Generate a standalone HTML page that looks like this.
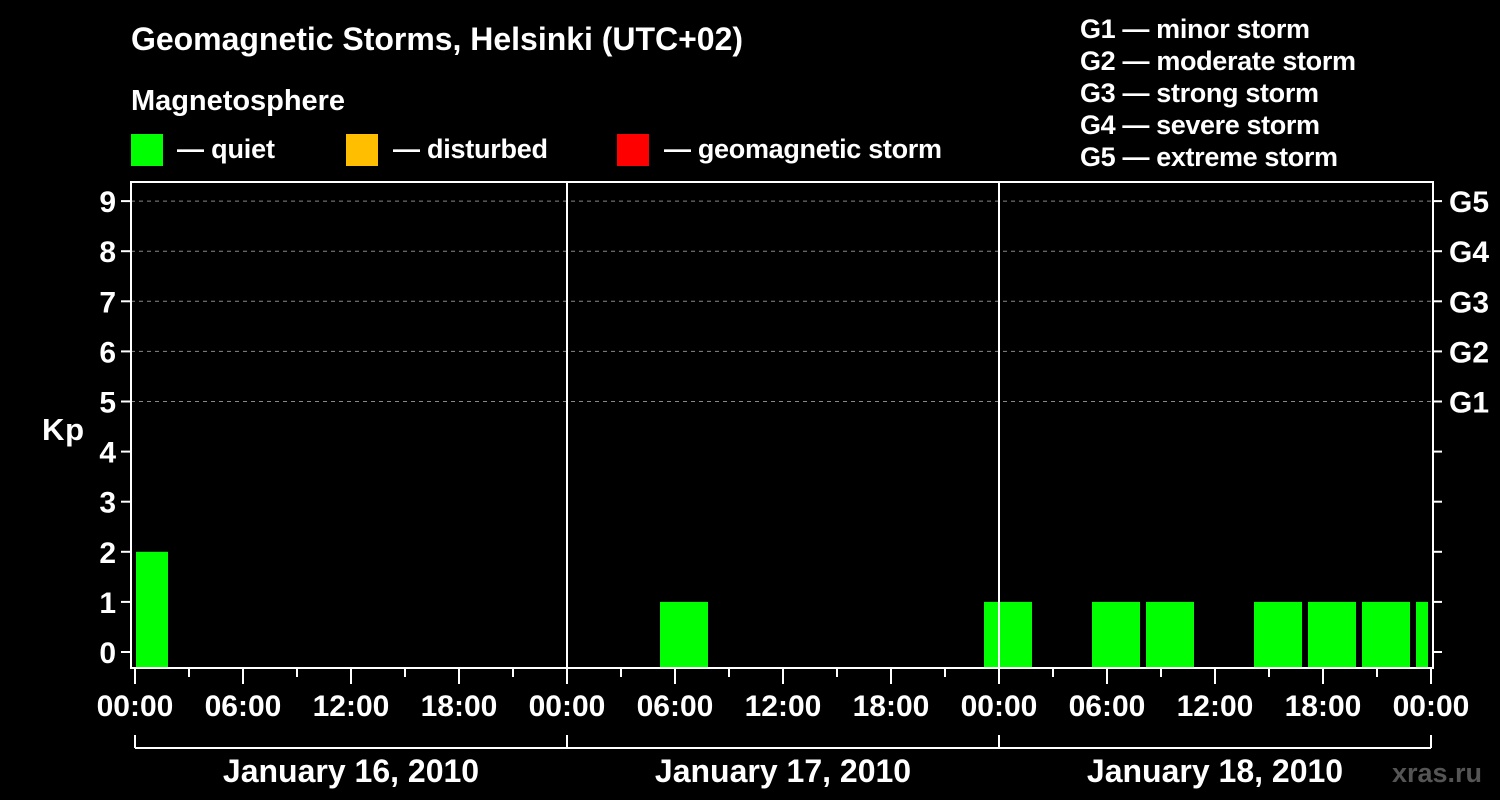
<!DOCTYPE html>
<html><head><meta charset="utf-8"><style>
html,body{margin:0;padding:0;background:#000;}
svg{display:block;font-family:"Liberation Sans",Arial,sans-serif;font-weight:bold;}
</style></head><body>
<svg id="chart" width="1500" height="800" viewBox="0 0 1500 800">
<rect width="1500" height="800" fill="#000"/>
<text x="131" y="50" fill="#fff" font-size="32" textLength="612">Geomagnetic Storms, Helsinki (UTC+02)</text>
<text x="131" y="110" fill="#fff" font-size="29" textLength="214">Magnetosphere</text>
<g><rect x="131" y="134" width="32" height="32" fill="#00ff00"/><text x="177" y="158" fill="#fff" font-size="27" textLength="98">— quiet</text></g>
<g><rect x="346" y="134" width="32" height="32" fill="#ffbf00"/><text x="393" y="158" fill="#fff" font-size="27" textLength="155">— disturbed</text></g>
<g><rect x="617" y="134" width="32" height="32" fill="#ff0000"/><text x="664" y="158" fill="#fff" font-size="27" textLength="278">— geomagnetic storm</text></g>
<g fill="#fff" font-size="27">
<text x="1080" y="38" textLength="230">G1 — minor storm</text>
<text x="1080" y="70" textLength="276">G2 — moderate storm</text>
<text x="1080" y="102" textLength="239">G3 — strong storm</text>
<text x="1080" y="134" textLength="240">G4 — severe storm</text>
<text x="1080" y="166" textLength="258">G5 — extreme storm</text>
</g>
<text x="42" y="440" fill="#fff" font-size="31" textLength="42">Kp</text>
<text x="1392" y="782" fill="#555" font-size="27" textLength="90">xras.ru</text>
<g id="grid"></g><g id="bars"></g><g id="axes"></g>
</svg>
<script>
const kpValues=[2,0,0,0,0,0,0,0,0,0,1,0,0,0,0,0,1,0,1,1,0,1,1,1,1];
const yTicks=[0,1,2,3,4,5,6,7,8,9];
const gLabels=["G1","G2","G3","G4","G5"];
const timeLabels=["00:00","06:00","12:00","18:00"];
const dayLabels=["January 16, 2010","January 17, 2010","January 18, 2010"];
const startHour=-1, stepHours=3;
const NS="http://www.w3.org/2000/svg";
const X0=135, PXH=18, L=131, R=1433, T=182, B=668;
const x=h=>X0+h*PXH;
const y=v=>652-v*50.1;
function mk(tag,attrs,parent){const e=document.createElementNS(NS,tag);for(const k in attrs)e.setAttribute(k,attrs[k]);parent.appendChild(e);return e;}
const grid=document.getElementById('grid'),bars=document.getElementById('bars'),axes=document.getElementById('axes');
yTicks.forEach(v=>{
 if(v>=5){const g=mk('line',{x1:L,x2:R,y1:y(v),y2:y(v),stroke:'#888','stroke-dasharray':'4,4','stroke-width':1},grid);
 
 }
 const t=mk('line',{x1:121,x2:L,y1:y(v),y2:y(v),stroke:'#fff','stroke-width':2},axes);
 
 
 const t2=mk('line',{x1:R,x2:1442,y1:y(v),y2:y(v),stroke:'#fff','stroke-width':2},axes);
 
 
 const lb=mk('text',{x:116,y:y(v)+11,fill:'#fff','font-size':30,'text-anchor':'end'},axes);lb.textContent=v;
 
 
});
gLabels.forEach((g,i)=>{const lb=mk('text',{x:1449,y:y(5+i)+11,fill:'#fff','font-size':30},axes);lb.textContent=g;
 
 });
kpValues.forEach((v,i)=>{
 if(!v)return;
 const h=startHour+i*stepHours;
 let xa=Math.max(x(h)+3,136), xb=Math.min(x(h+stepHours)-3,1428);
 const c=v>=5?'#ff0000':(v>=4?'#ffbf00':'#00ff00');
 const r=mk('rect',{x:xa,y:y(v),width:xb-xa,height:B-y(v),fill:c},bars);
 
 
});
const fr=mk('path',{d:`M${L} ${T}H${R}V${B}H${L}Z`,fill:'none',stroke:'#fff','stroke-width':2},axes);


for(let d=1;d<3;d++){const l=mk('line',{x1:x(24*d),x2:x(24*d),y1:T,y2:B,stroke:'#fff','stroke-width':2},axes);
 
 }
for(let h=0;h<=72;h+=3){
 const major=h%6===0;
 const t=mk('line',{x1:x(h),x2:x(h),y1:B,y2:B+(major?16:9),stroke:'#fff','stroke-width':2},axes);
 
 
 if(major){const lb=mk('text',{x:x(h),y:716,fill:'#fff','font-size':30,'text-anchor':'middle'},axes);lb.textContent=timeLabels[(h/6)%4];
 
 }
}
const br=mk('line',{x1:x(0),x2:x(72),y1:748,y2:748,stroke:'#fff','stroke-width':2},axes);


for(let d=0;d<=3;d++){const l=mk('line',{x1:x(24*d),x2:x(24*d),y1:735,y2:748,stroke:'#fff','stroke-width':2},axes);
 
 }
dayLabels.forEach((s,d)=>{const lb=mk('text',{x:x(24*d+12),y:782,fill:'#fff','font-size':32,'text-anchor':'middle'},axes);lb.textContent=s;
 
 });
</script>
</body></html>
